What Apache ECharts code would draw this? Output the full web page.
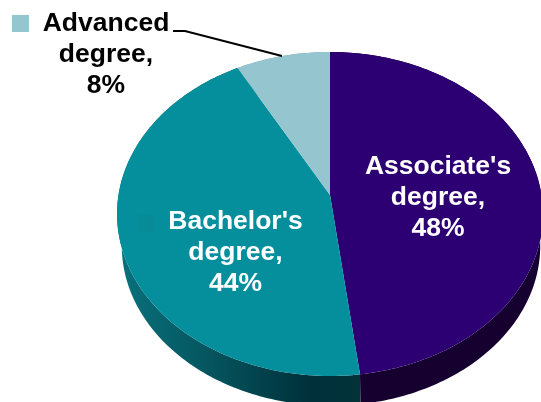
<!DOCTYPE html>
<html>
<head>
<meta charset="utf-8">
<style>
  html, body { margin: 0; padding: 0; background: #fff; }
  #chart { width: 541px; height: 402px; }
</style>
<script src="https://cdn.jsdelivr.net/npm/echarts@6/dist/echarts.min.js"></script>
</head>
<body>
<div id="chart"></div>
<script>
// Highest degree earned, share of completers
const categories = ["Associate's degree", "Bachelor's degree", "Advanced degree"];
const shares = [48, 44, 8];
const faceColors = ['#2c0072', '#058e9b', '#95c5cf'];

// Tilted disc: a circle seen through a perspective projection
const disc = { cx: 330, cy: 195, a: 211.5, b: 159.8, k: 0.117 };
const base = { cx: 331, cy: 227, a: 207.8, b: 157.8, k: 0.117 };
const ARC_STEP = Math.PI / 180;

const wallFills = [
  '#150030',
  {
    type: 'linear', global: true, x: 122, y: 0, x2: 360, y2: 0,
    colorStops: [
      { offset: 0, color: '#08707b' },
      { offset: 0.35, color: '#055660' },
      { offset: 0.8, color: '#00303a' },
      { offset: 1, color: '#013338' }
    ]
  },
  '#6f9aa3'
];

// Where the text blocks sit, and which ones carry a key square
const labelStyles = [
  { x: 438, y: 198, color: '#fff' },
  { x: 235.5, y: 253, color: '#fff', key: { x: 138, y: 215, fill: '#078b97' } },
  { x: 106, y: 54.5, color: '#000', key: { x: 12, y: 15, fill: '#95c5cf' } }
];

const total = shares.reduce((s, v) => s + v, 0);

function sliceAngles(i) {
  let before = 0;
  for (let j = 0; j < i; j++) before += shares[j];
  return [before / total * 2 * Math.PI, (before + shares[i]) / total * 2 * Math.PI];
}

function project(p, theta) {
  const u = Math.sin(theta), v = Math.cos(theta);
  const w = 1 + p.k * v;
  return [p.cx + p.a * u / w, p.cy - p.b * v / w];
}

function arc(p, from, to) {
  const pts = [];
  const n = Math.max(2, Math.ceil((to - from) / ARC_STEP));
  for (let s = 0; s <= n; s++) pts.push(project(p, from + (to - from) * s / n));
  return pts;
}

function renderWall(params) {
  const [from, to] = sliceAngles(params.dataIndex);
  const points = arc(disc, from, to).concat(arc(base, from, to).reverse());
  return { type: 'polygon', shape: { points }, style: { fill: wallFills[params.dataIndex] } };
}

function renderFace(params, api) {
  const [from, to] = sliceAngles(params.dataIndex);
  const points = [[disc.cx, disc.cy]].concat(arc(disc, from, to));
  return { type: 'polygon', shape: { points }, style: { fill: api.visual('color') } };
}

function renderLabel(params, api) {
  const i = params.dataIndex;
  const ls = labelStyles[i];
  const children = [];
  if (ls.key) {
    children.push({
      type: 'rect',
      shape: { x: ls.key.x, y: ls.key.y, width: 17, height: 17 },
      style: { fill: ls.key.fill }
    });
  }
  children.push({
    type: 'text',
    style: {
      x: ls.x, y: ls.y,
      text: categories[i].replace(' ', '\n') + ',\n' + api.value(0) + '%',
      fill: ls.color,
      font: 'bold 26.5px "Liberation Sans", Arial, sans-serif',
      lineHeight: 31,
      align: 'center',
      verticalAlign: 'middle'
    }
  });
  return { type: 'group', children };
}

const chart = echarts.init(document.getElementById('chart'), null, { renderer: 'canvas' });

chart.setOption({
  animation: false,
  backgroundColor: '#ffffff',
  color: faceColors,
  series: [
    { type: 'custom', coordinateSystem: 'none', z: 1, silent: true, clip: false, renderItem: renderWall, data: shares },
    {
      type: 'custom', coordinateSystem: 'none', z: 2, silent: true, clip: false, renderItem: renderFace,
      data: shares.map((v, i) => ({ value: v, name: categories[i], itemStyle: { color: faceColors[i] } }))
    },
    { type: 'custom', coordinateSystem: 'none', z: 3, silent: true, clip: false, renderItem: renderLabel, data: shares }
  ],
  graphic: {
    elements: [{
      // Leader from the small slice's text to its rim
      type: 'polyline',
      z: 10,
      shape: { points: [[173, 31], [185, 31], [282, 56]] },
      style: { stroke: '#000', lineWidth: 2, fill: null }
    }]
  }
});
</script>
</body>
</html>
